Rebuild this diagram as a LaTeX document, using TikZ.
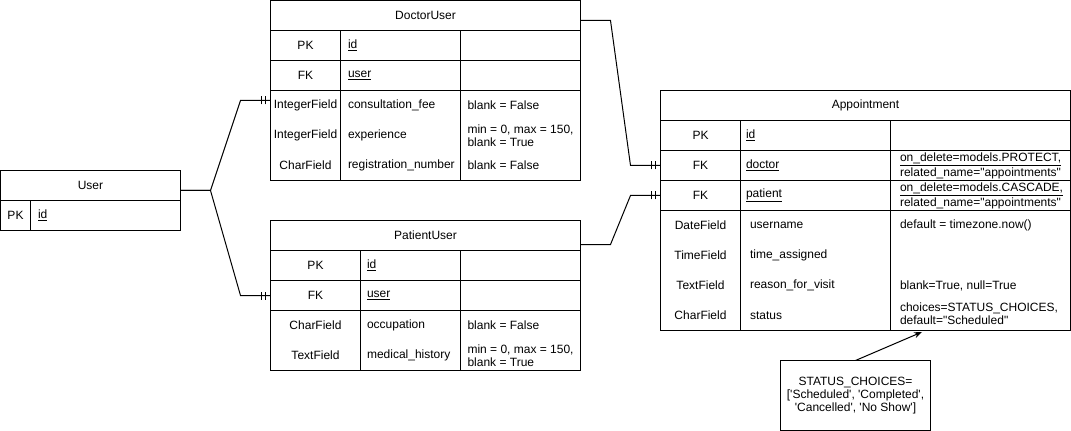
\documentclass[tikz,border=0pt]{standalone}
\usepackage{fontspec}
\setmainfont{Liberation Sans}[Ligatures=TeXOff]
\usetikzlibrary{calc,arrows.meta,decorations.markings}

\begin{document}
\begin{tikzpicture}[
	x=0.75pt, y=-0.75pt,
	line width=0.75pt,
	font=\fontsize{9}{9.6}\selectfont,
	cell/.style={draw, rectangle, anchor=north west, inner sep=0pt, outer sep=0pt, minimum height=22.5pt},
	txt/.style={anchor=west, inner sep=0pt, align=left},
	lbl/.style={inner sep=0pt, align=center},
	mandone/.style={postaction={decorate, decoration={markings,
		mark=at position -3.75pt with {\draw (0,-3pt) -- (0,3pt);},
		mark=at position -6.75pt with {\draw (0,-3pt) -- (0,3pt);}}}},
	>={Stealth[length=6pt,width=4.5pt]}
	]
	
	\useasboundingbox (0,0) rectangle (1071,431);
	
	%-----------------------
	% User
	%-----------------------
	\node[cell, minimum width=135pt] (User) at (0.5,170.5) {User};
	\node[cell, minimum width=22.5pt] (u-pk) at (0.5,200.5) {PK};
	\node[cell, minimum width=112.5pt] (u-pkname) at (30.5,200.5) {};
	\node[txt] (u-id) at (37.5,215.5) {\underline{id}};
	
	%-----------------------
	% DoctorUser
	%-----------------------
	\node[cell, minimum width=232.5pt] (DoctorUser) at (270.5,0.5) {DoctorUser};
	\node[cell, minimum width=52.5pt] (d-pk) at (270.5,30.5) {PK};
	\node[cell, minimum width=90pt] (d-pkname) at (340.5,30.5) {};
	\node[cell, minimum width=90pt] (d-pkattr) at (460.5,30.5) {};
	\node[cell, minimum width=52.5pt] (d-fk) at (270.5,60.5) {FK};
	\node[cell, minimum width=90pt] (d-fkname) at (340.5,60.5) {};
	\node[cell, minimum width=90pt] (d-fkattr) at (460.5,60.5) {};
	\node[cell, minimum width=52.5pt, minimum height=67.5pt] (d-types) at (270.5,90.5) {};
	\node[cell, minimum width=90pt, minimum height=67.5pt] (d-names) at (340.5,90.5) {};
	\node[cell, minimum width=90pt, minimum height=67.5pt] (d-attrs) at (460.5,90.5) {};
	
	\node[txt] (d-id) at (347.5,45.5) {\underline{id}};
	\node[txt] (d-user) at (347.5,75.5) {\underline{user}};
	\node[lbl] (d-t1) at (305.5,105.5) {IntegerField};
	\node[lbl] (d-t2) at (305.5,135.5) {IntegerField};
	\node[lbl] (d-t3) at (305.5,165.5) {CharField};
	\node[txt] (d-n1) at (347.5,105.5) {consultation\_fee};
	\node[txt] (d-n2) at (347.5,135.5) {experience};
	\node[txt] (d-n3) at (347.5,165.5) {registration\_number};
	\node[txt] (d-a1) at (467,105.5) {blank = False};
	\node[txt] (d-a2) at (467,136) {min = 0, max = 150,\\blank = True};
	\node[txt] (d-a3) at (467,165.5) {blank = False};
	
	%-----------------------
	% PatientUser
	%-----------------------
	\node[cell, minimum width=232.5pt] (PatientUser) at (270.5,220.5) {PatientUser};
	\node[cell, minimum width=67.5pt] (p-pk) at (270.5,250.5) {PK};
	\node[cell, minimum width=75pt] (p-pkname) at (360.5,250.5) {};
	\node[cell, minimum width=90pt] (p-pkattr) at (460.5,250.5) {};
	\node[cell, minimum width=67.5pt] (p-fk) at (270.5,280.5) {FK};
	\node[cell, minimum width=75pt] (p-fkname) at (360.5,280.5) {};
	\node[cell, minimum width=90pt] (p-fkattr) at (460.5,280.5) {};
	\node[cell, minimum width=67.5pt, minimum height=45pt] (p-types) at (270.5,310.5) {};
	\node[cell, minimum width=75pt, minimum height=45pt] (p-names) at (360.5,310.5) {};
	\node[cell, minimum width=90pt, minimum height=45pt] (p-attrs) at (460.5,310.5) {};
	
	\node[txt] (p-id) at (366.5,265.5) {\underline{id}};
	\node[txt] (p-user) at (366.5,295.5) {\underline{user}};
	\node[lbl] (p-t1) at (315.5,325.5) {CharField};
	\node[lbl] (p-t2) at (315.5,355.5) {TextField};
	\node[txt] (p-n1) at (366.5,325.5) {occupation};
	\node[txt] (p-n2) at (366.5,355.5) {medical\_history};
	\node[txt] (p-a1) at (467,325.5) {blank = False};
	\node[txt] (p-a2) at (467,356) {min = 0, max = 150,\\blank = True};
	
	%-----------------------
	% Appointment
	%-----------------------
	\node[cell, minimum width=307.5pt] (Appointment) at (660.5,90.5) {Appointment};
	\node[cell, minimum width=60pt] (a-pk) at (660.5,120.5) {PK};
	\node[cell, minimum width=112.5pt] (a-pkname) at (740.5,120.5) {};
	\node[cell, minimum width=135pt] (a-pkattr) at (890.5,120.5) {};
	\node[cell, minimum width=60pt] (a-fk1) at (660.5,150.5) {FK};
	\node[cell, minimum width=112.5pt] (a-fk1name) at (740.5,150.5) {};
	\node[cell, minimum width=135pt] (a-fk1attr) at (890.5,150.5) {};
	\node[cell, minimum width=60pt] (a-fk2) at (660.5,180.5) {FK};
	\node[cell, minimum width=112.5pt] (a-fk2name) at (740.5,180.5) {};
	\node[cell, minimum width=135pt] (a-fk2attr) at (890.5,180.5) {};
	\node[cell, minimum width=60pt, minimum height=90pt] (a-types) at (660.5,210.5) {};
	\node[cell, minimum width=112.5pt, minimum height=90pt] (a-names) at (740.5,210.5) {};
	\node[cell, minimum width=135pt, minimum height=90pt] (a-attrs) at (890.5,210.5) {};
	
	\node[txt] (a-id) at (745.5,135.5) {\underline{id}};
	\node[txt] (a-doctor) at (745.5,165.5) {\underline{doctor}};
	\node[txt] (a-patient) at (745.5,195.5) {\underline{patient}};
	\node[txt] (a-fk1txt) at (899.5,167) {\underline{on\_delete=models.PROTECT,}\\\underline{related\_name="appointments"}};
	\node[txt] (a-fk2txt) at (899.5,197) {\underline{on\_delete=models.CASCADE,}\\\underline{related\_name="appointments"}};
	\node[lbl] (a-t1) at (700.5,225.5) {DateField};
	\node[lbl] (a-t2) at (700.5,255.5) {TimeField};
	\node[lbl] (a-t3) at (700.5,285.5) {TextField};
	\node[lbl] (a-t4) at (700.5,315.5) {CharField};
	\node[txt] (a-n1) at (749.5,225.5) {username};
	\node[txt] (a-n2) at (749.5,255.5) {time\_assigned};
	\node[txt] (a-n3) at (749.5,285.5) {reason\_for\_visit};
	\node[txt] (a-n4) at (749.5,315.5) {status};
	\node[txt] (a-a1) at (899.5,225.5) {default = timezone.now()};
	\node[txt] (a-a3) at (899.5,285.5) {blank=True, null=True};
	\node[txt] (a-a4) at (899.5,314) {choices=STATUS\_CHOICES,\\default="Scheduled"};
	
	%-----------------------
	% Status note
	%-----------------------
	\node[draw, rectangle, inner sep=0pt, outer sep=0pt, minimum width=112.5pt, minimum height=52.5pt, align=center] (Status) at (855.5,395.5)
		{STATUS\_CHOICES=\\{[}'Scheduled', 'Completed',\\'Cancelled', 'No Show'{]}};
	\coordinate (a-statusPt) at (922,332);
	
	%-----------------------
	% Connections
	%-----------------------
	% User -> DoctorUser / PatientUser
	\draw[mandone] ($(User.east)+(0,5)$) -- ++(30,0) -- ($(DoctorUser.west |- d-t1)+(-30,-5)$) -- ($(DoctorUser.west |- d-t1)+(0,-5)$);
	\draw[mandone] ($(User.east)+(0,5)$) -- ++(30,0) -- ($(p-fk.west)+(-30,0)$) -- (p-fk.west);
	
	% DoctorUser / PatientUser -> Appointment
	\draw[mandone] ($(DoctorUser.east)+(0,5)$) -- ++(30,0) -- ($(a-fk1.west)+(-30,0)$) -- (a-fk1.west);
	\draw[mandone] ($(PatientUser.east)+(0,9)$) -- ++(30,0) -- ($(a-fk2.west)+(-30,0)$) -- (a-fk2.west);
	
	% note -> status field
	\draw[->] (Status.north) -- (a-statusPt);
	
\end{tikzpicture}
\end{document}
